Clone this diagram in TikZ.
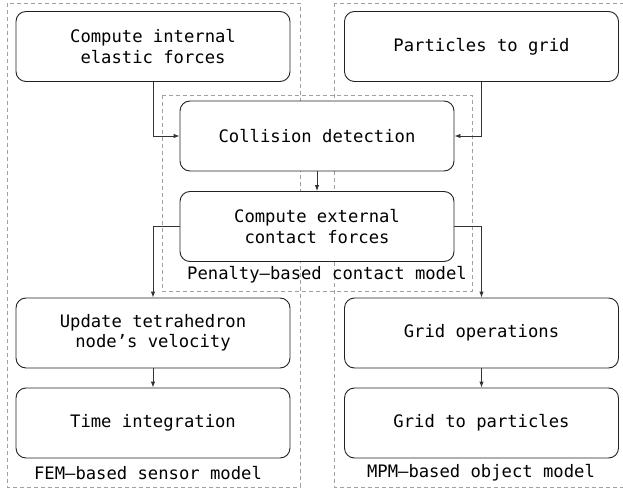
\documentclass[tikz,border=0pt]{standalone}
\usepackage{fontspec}
\setmainfont{DejaVu Sans Mono}
\usetikzlibrary{arrows.meta}
\definecolor{framegray}{HTML}{A0A0A0}
\definecolor{boxline}{HTML}{222222}
\definecolor{linkline}{HTML}{333333}
\tikzset{
  stepbox/.style={draw=boxline, line width=0.9pt, fill=white, rounded corners=10pt,
    minimum width=274pt, minimum height=70pt, align=center, inner sep=0pt,
    font=\fontsize{17.2}{20.5}\selectfont},
  frame/.style={draw=framegray, line width=0.9pt, dash pattern=on 4pt off 3pt},
  lbl/.style={inner sep=0pt, font=\fontsize{17.2}{20.5}\selectfont},
  link/.style={draw=linkline, line width=0.9pt, -{Latex[length=6pt,width=4.5pt]}}
}
\begin{document}
\begin{tikzpicture}[x=1pt,y=-1pt]
\useasboundingbox (0,0) rectangle (623,489);
% frames
\draw[frame] (7,3) rectangle (300,487);
\draw[frame] (334,3) rectangle (632,487);
\draw[frame] (162,95) rectangle (472,291);
% boxes
\node[stepbox] (ci) at (153,46.5) {Compute internal\\elastic forces};
\node[stepbox] (pg) at (481.5,46.5) {Particles to grid};
\node[stepbox] (cd) at (317,136) {Collision detection};
\node[stepbox] (ce) at (317,226.5) {Compute external\\contact forces};
\node[stepbox] (ut) at (153,333) {Update tetrahedron\\node’s velocity};
\node[stepbox] (ti) at (153,423) {Time integration};
\node[stepbox] (go) at (481.5,333) {Grid operations};
\node[stepbox] (gp) at (481.5,423) {Grid to particles};
% labels
\node[lbl, anchor=east] (lp) at (467,275) {Penalty–based contact model};
\node[lbl] (lf) at (148,473) {FEM–based sensor model};
\node[lbl] (lm) at (481,473) {MPM–based object model};
% connectors
\draw[link] (ci.south) |- (cd.west);
\draw[link] (pg.south) |- (cd.east);
\draw[link] (cd.south) -- (ce.north);
\draw[link] (ce.west) -| (ut.north);
\draw[link] (ce.east) -| (go.north);
\draw[link] (ut.south) -- (ti.north);
\draw[link] (go.south) -- (gp.north);
\end{tikzpicture}
\end{document}
